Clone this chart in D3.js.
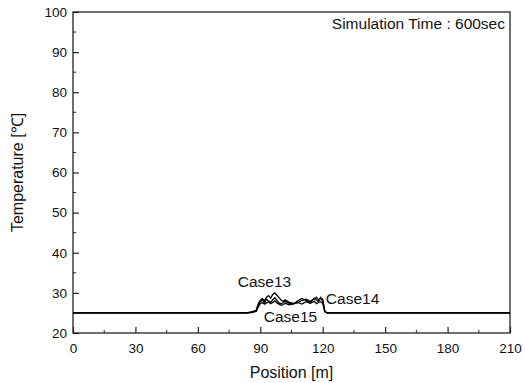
<!DOCTYPE html>
<html>
<head>
<meta charset="utf-8">
<script src="https://cdn.jsdelivr.net/npm/d3@7"></script>
<style>
  body { margin: 0; background: #fff; }
  text { font-family: "Liberation Sans", Arial, sans-serif; fill: #111; }
</style>
</head>
<body>
<div id="chart"></div>
<script>
const positions = [0, 80, 84, 86, 88, 89, 90, 91, 92, 93, 94, 95, 96, 97, 98, 99, 100, 101, 102, 104, 106, 108, 110, 112, 114, 116, 117, 118, 119, 120, 121, 122, 210];
const case13 = [25, 25, 25.1, 25.3, 25.6, 27.2, 28.2, 28.6, 28.0, 28.9, 29.3, 28.7, 29.6, 30.0, 29.4, 28.8, 28.2, 27.9, 28.3, 27.6, 27.4, 27.6, 28.1, 28.4, 27.9, 28.5, 28.9, 28.2, 28.6, 28.0, 25.4, 25, 25];
const case14 = [25, 25, 25, 25.2, 25.5, 26.8, 27.8, 28.3, 27.5, 28.4, 28.0, 27.6, 28.3, 28.8, 28.1, 27.5, 27.3, 27.6, 27.9, 27.4, 27.2, 28.0, 28.6, 28.1, 27.6, 28.7, 28.2, 27.8, 28.9, 28.4, 25.5, 25, 25];
const case15 = [25, 25, 25, 25.1, 25.4, 26.5, 27.3, 27.6, 27.2, 27.5, 27.8, 27.3, 27.6, 28.0, 27.5, 27.2, 26.9, 27.1, 27.4, 27.0, 27.3, 27.6, 27.2, 27.8, 27.4, 27.9, 27.3, 27.6, 27.8, 27.4, 25.3, 25, 25];
const xTicks = [0, 30, 60, 90, 120, 150, 180, 210];
const yTicks = [20, 30, 40, 50, 60, 70, 80, 90, 100];

const W = 525, H = 383;
const margin = {top: 12, right: 15, bottom: 50, left: 73};
const width = W - margin.left - margin.right,
      height = H - margin.top - margin.bottom;

const svg = d3.select("#chart").append("svg")
    .attr("width", W).attr("height", H);
const g = svg.append("g")
    .attr("transform", `translate(${margin.left}, ${margin.top})`);

const x = d3.scaleLinear().domain([0, 210]).range([0, width]);
const y = d3.scaleLinear().domain([20, 100]).range([height, 0]);

// minor ticks
g.selectAll(".xminor").data(d3.range(15, 210, 30)).join("line")
    .attr("x1", d => x(d)).attr("x2", d => x(d))
    .attr("y1", height).attr("y2", height - 3)
    .attr("stroke", "#222").attr("stroke-width", 1);
g.selectAll(".yminor").data(d3.range(25, 100, 10)).join("line")
    .attr("y1", d => y(d)).attr("y2", d => y(d))
    .attr("x1", 0).attr("x2", 3)
    .attr("stroke", "#222").attr("stroke-width", 1);

const xAxis = g.append("g")
    .attr("transform", `translate(0, ${height})`)
    .call(d3.axisBottom(x).tickValues(xTicks).tickSizeInner(-6).tickSizeOuter(0).tickPadding(10));
const yAxis = g.append("g")
    .call(d3.axisLeft(y).tickValues(yTicks).tickSizeInner(-6).tickSizeOuter(0).tickPadding(6));

[xAxis, yAxis].forEach(a => {
  a.select(".domain").remove();
  a.selectAll(".tick line").attr("stroke", "#222").attr("stroke-width", 1.2);
  a.selectAll(".tick text").attr("font-size", 13.5).attr("fill", "#111")
    .attr("font-family", "'Liberation Sans', Arial, sans-serif");
});

// frame
g.append("rect").attr("width", width).attr("height", height)
    .attr("fill", "none").attr("stroke", "#222").attr("stroke-width", 1.3);

const line = d3.line()
    .x((d, i) => x(positions[i]))
    .y(d => y(d));

[case15, case14, case13].forEach(s => {
  g.append("path").datum(s)
    .attr("fill", "none").attr("stroke", "#000").attr("stroke-width", 1.3)
    .attr("d", line);
});

g.append("text").attr("x", x(92)).attr("y", y(31.5))
    .attr("text-anchor", "middle").attr("font-size", 15.5).text("Case13");
g.append("text").attr("x", x(121.5)).attr("y", y(27.2))
    .attr("text-anchor", "start").attr("font-size", 15.5).text("Case14");
g.append("text").attr("x", x(104.5)).attr("y", y(22.8))
    .attr("text-anchor", "middle").attr("font-size", 15.5).text("Case15");

g.append("text").attr("x", width - 5).attr("y", 17)
    .attr("text-anchor", "end").attr("font-size", 15.5).text("Simulation Time : 600sec");

svg.append("text").attr("x", margin.left + width / 2).attr("y", 378)
    .attr("text-anchor", "middle").attr("font-size", 16).text("Position [m]");
svg.append("text")
    .attr("transform", `translate(23, ${margin.top + height / 2}) rotate(-90)`)
    .attr("text-anchor", "middle").attr("font-size", 16).text("Temperature [℃]");
</script>
</body>
</html>
